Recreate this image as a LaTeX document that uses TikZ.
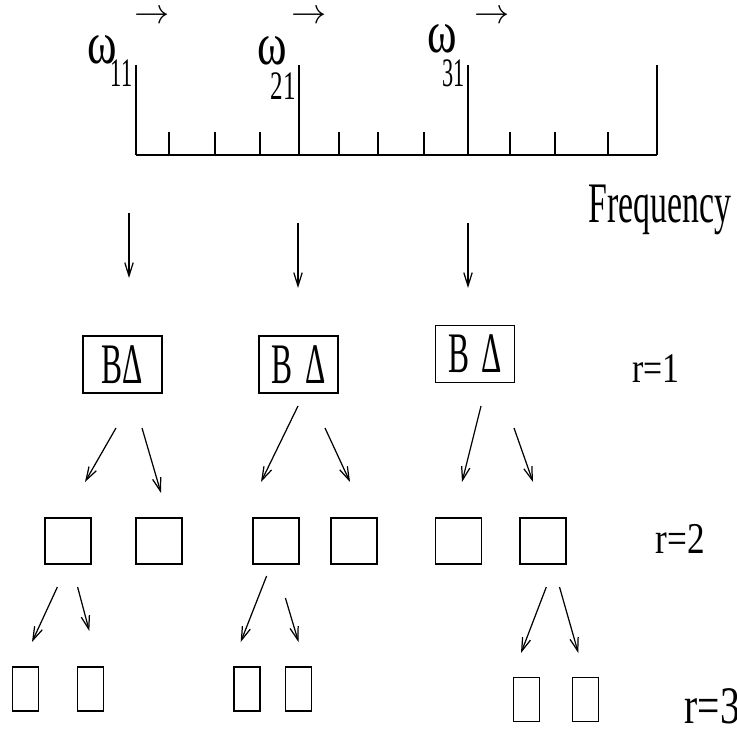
\documentclass[tikz,border=0pt]{standalone}
\usepackage{graphicx}
\usepackage{fontspec}
\setmainfont{Liberation Serif}
\usepackage{tikz}
\usetikzlibrary{arrows.meta}

\newcommand{\narrowtext}[2][0.6]{\scalebox{#1}[1]{#2}}

\begin{document}
\begin{tikzpicture}[x=0.01cm,y=-0.01cm,line width=0.35pt,
    arr/.style={-{Straight Barb[length=3.8pt,width=2.4pt]}},
    bigbox/.style={shape=rectangle,draw=black,inner sep=0pt,
        minimum width=7.9mm,minimum height=5.7mm,font=\fontsize{16.3}{16}\selectfont},
    midbox/.style={shape=rectangle,draw=black,minimum width=4.6mm,minimum height=4.6mm},
    smallbox/.style={shape=rectangle,draw=black,minimum width=2.6mm,minimum height=4.4mm},
    omega/.style={inner sep=0pt,font=\fontsize{17}{17}\selectfont},
    idx/.style={inner sep=0pt,font=\fontsize{11.5}{11}\selectfont},
    level/.style={inner sep=0pt,anchor=base west,font=\fontsize{12}{12}\selectfont}]
    \useasboundingbox (0,0) rectangle (737,734);

    % frequency axis
    \draw (136,155) -- (657,155);
    \foreach \x in {136,299,468,657}
        \draw (\x,65) -- (\x,155);
    \foreach \x in {169,215,260,339,378,424,510,555,608}
        \draw (\x,132) -- (\x,155);

    \node (vec1)[inner sep=0pt] at (152,17) {$\rightarrow$};
    \node (vec2)[inner sep=0pt] at (309,17) {$\rightarrow$};
    \node (vec3)[inner sep=0pt] at (492,17) {$\rightarrow$};

    \node (w11)[omega] at (102.5,50) {\narrowtext[0.75]{ω}};
    \node (i11)[idx] at (121.5,73.5) {\narrowtext[0.55]{11}};
    \node (w21)[omega] at (272.5,50.5) {\narrowtext[0.75]{ω}};
    \node (i21)[idx] at (283.5,86.5) {\narrowtext[0.62]{21}};
    \node (w31)[omega] at (442.5,39) {\narrowtext[0.75]{ω}};
    \node (i31)[idx] at (453.5,73.5) {\narrowtext[0.55]{31}};

    \node (freq)[inner sep=0pt,anchor=base west,font=\fontsize{16.3}{16}\selectfont]
        at (588,223) {\narrowtext[0.59]{Frequency}};

    % r=1
    \node (B1)[bigbox] at (122.5,364.5) {\narrowtext[0.55]{BΔ}};
    \node (B2)[bigbox] at (298.5,364.5) {\narrowtext[0.55]{B\hspace{0.4em}Δ}};
    \node (B3)[bigbox] at (475,354) {\narrowtext[0.55]{B\hspace{0.4em}Δ}};
    \node (r1)[level] at (632,383) {\narrowtext[0.8]{r=1}};

    % r=2
    \node (C1)[midbox] at (68,541) {};
    \node (C2)[midbox] at (159,541) {};
    \node (C3)[midbox] at (276,541) {};
    \node (C4)[midbox] at (354,541) {};
    \node (C5)[midbox] at (458.5,541) {};
    \node (C6)[midbox] at (543,541) {};
    \node (r2)[level,font=\fontsize{12.5}{12}\selectfont] at (655,553) {\narrowtext[0.8]{r=2}};

    % r=3
    \node (D1)[smallbox] at (25.2,689) {};
    \node (D2)[smallbox] at (90.5,689) {};
    \node (D3)[smallbox] at (247,689) {};
    \node (D4)[smallbox] at (298.6,689) {};
    \node (D5)[smallbox] at (526.4,699.5) {};
    \node (D6)[smallbox] at (585.6,699.5) {};
    \node (r3)[level,font=\fontsize{15}{15}\selectfont] at (684,723) {\narrowtext[0.75]{r=3}};

    % arrows
    \coordinate (f1) at (129,213); \coordinate (f1e) at (129,278);
    \coordinate (f2) at (298,223); \coordinate (f2e) at (298,288);
    \coordinate (f3) at (468,223); \coordinate (f3e) at (468,288);
    \draw[arr] (f1) -- (f1e);
    \draw[arr] (f2) -- (f2e);
    \draw[arr] (f3) -- (f3e);

    \coordinate (a1) at (116,428); \coordinate (a1e) at (85,482);
    \coordinate (a2) at (142,428); \coordinate (a2e) at (161,493);
    \coordinate (a3) at (298,406); \coordinate (a3e) at (261,482);
    \coordinate (a4) at (325,428); \coordinate (a4e) at (350,482);
    \coordinate (a5) at (481,406); \coordinate (a5e) at (462,482);
    \coordinate (a6) at (514,428); \coordinate (a6e) at (533,482);
    \foreach \i in {1,...,6}
        \draw[arr] (a\i) -- (a\i e);

    \coordinate (b1) at (57.4,587); \coordinate (b1e) at (32,642);
    \coordinate (b2) at (77.6,587); \coordinate (b2e) at (89.3,631);
    \coordinate (b3) at (266.6,576); \coordinate (b3e) at (240.7,642);
    \coordinate (b4) at (285.4,598); \coordinate (b4e) at (298.5,642);
    \coordinate (b5) at (546.3,587); \coordinate (b5e) at (521,653);
    \coordinate (b6) at (559.5,587); \coordinate (b6e) at (578.3,653);
    \foreach \i in {1,...,6}
        \draw[arr] (b\i) -- (b\i e);
\end{tikzpicture}
\end{document}
